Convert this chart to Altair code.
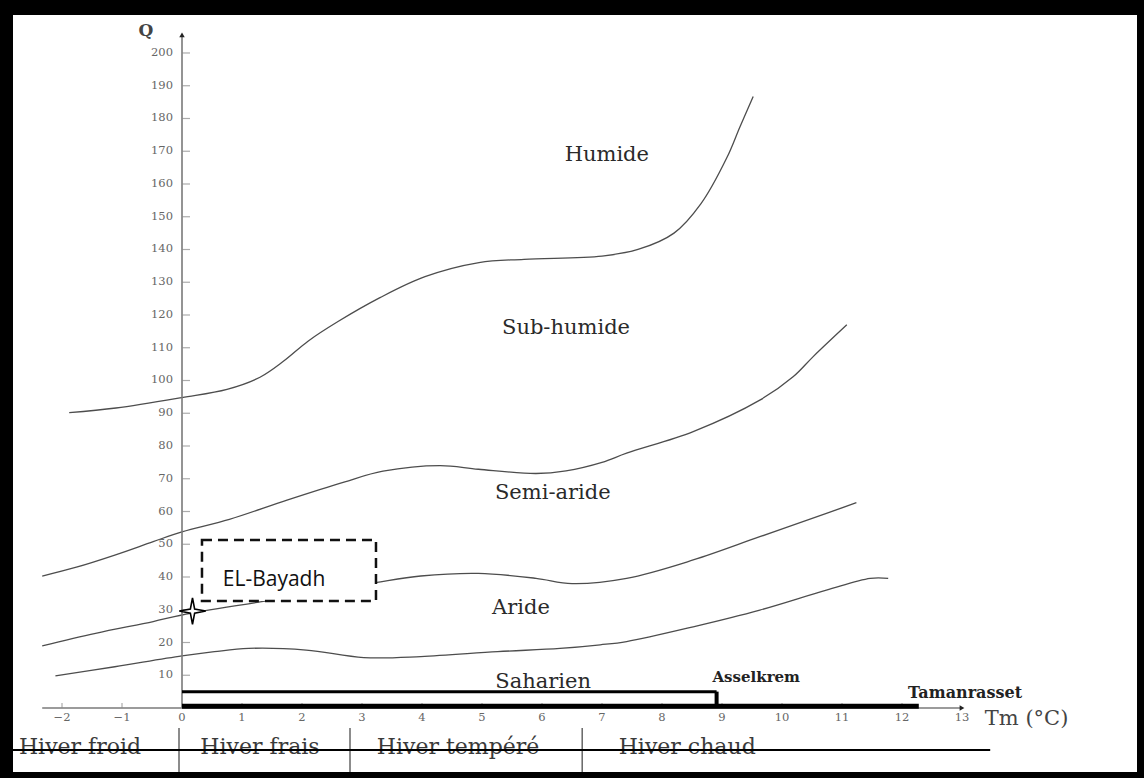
import altair as alt
import pandas as pd

# ---------------- data ----------------
# Boundary curves of the Emberger climagram (Tm in degC, Q)
curve_A_tm = [-1.88, -1.1, 0.0, 0.75, 1.3, 1.7, 2.1, 2.6, 3.3, 4.05, 4.95, 5.7, 7.0, 7.6, 8.2, 8.65, 9.08, 9.3, 9.52]
curve_A_q = [90.2, 91.6, 94.8, 97.3, 101.0, 106.0, 112.0, 118.0, 125.3, 131.7, 136.0, 137.0, 138.0, 140.0, 145.0, 154.0, 168.0, 177.5, 186.7]

curve_B_tm = [-2.33, -1.76, -1.12, -0.48, 0.0, 0.79, 1.75, 2.7, 3.35, 4.3, 4.94, 5.9, 6.4, 7.0, 7.41, 8.52, 9.63, 10.19, 10.52, 11.08]
curve_B_q = [40.3, 43.0, 46.7, 50.8, 53.8, 57.6, 63.5, 69.0, 72.3, 74.0, 72.9, 71.6, 72.4, 75.0, 77.8, 84.4, 94.0, 101.2, 107.3, 117.0]

curve_C_tm = [-2.33, -1.44, -0.48, 0.0, 1.43, 3.22, 3.98, 4.94, 5.9, 6.5, 7.41, 8.52, 9.63, 10.74, 11.24]
curve_C_q = [19.0, 22.8, 26.4, 28.4, 32.8, 38.3, 40.3, 41.1, 39.6, 38.0, 39.6, 45.2, 52.3, 59.4, 62.7]

curve_D_tm = [-2.11, -1.12, 0.0, 0.54, 1.11, 2.07, 3.03, 3.98, 5.26, 6.3, 6.97, 7.41, 8.52, 9.63, 10.74, 11.47, 11.77]
curve_D_q = [9.8, 12.6, 15.9, 17.2, 18.2, 17.7, 15.4, 15.7, 17.2, 18.2, 19.3, 20.3, 24.8, 29.9, 36.0, 39.6, 39.6]

# Bioclimatic zone labels
zone_names = ["Humide", "Sub-humide", "Semi-aride", "Aride", "Saharien"]
zone_tm = [7.08, 6.4, 6.18, 5.65, 6.02]
zone_q = [168.9, 116.0, 65.6, 30.5, 8.0]

# Stations (bars along the Tm axis)
station_names = ["Asselkrem", "Tamanrasset"]
station_tm_start = [0.0, 0.0]
station_tm_end = [8.91, 12.28]
station_q = [5.0, 0.5]
station_label_tm = [9.57, 13.05]
station_label_q = [9.5, 4.6]

# EL-Bayadh marker and box
elb_name = "EL-Bayadh"
elb_tm = 0.175
elb_q = 29.6
elb_box_tm = [0.333, 3.233]
elb_box_q = [32.7, 51.3]
elb_text_tm = 0.68
elb_text_q = 39.0

# Axes
y_ticks = list(range(10, 201, 10))
x_ticks = list(range(-2, 13))
x_labels = list(range(-2, 14))
x_axis_extent = [-2.33, 13.0]
y_axis_extent = [0.0, 205.5]

# Winter types band
winter_names = ["Hiver froid", "Hiver frais", "Hiver tempéré", "Hiver chaud"]
winter_tm = [-1.7, 1.3, 4.6, 8.42]
winter_q = -11.9
winter_sep_tm = [-0.05, 2.8, 6.67]
winter_line_tm = [-2.82, 13.47]
winter_line_q = -12.8

# ---------------- scales ----------------
xs = alt.Scale(domain=[-2.8167, 15.9167], nice=False, zero=False)
ys = alt.Scale(domain=[-19.54, 211.6], nice=False, zero=False)


def X(f):
    return alt.X(f, type="quantitative", scale=xs, axis=None)


def Y(f):
    return alt.Y(f, type="quantitative", scale=ys, axis=None)


def X2(f):
    return alt.X2(f)


def Y2(f):
    return alt.Y2(f)


SERIF = "DejaVu Serif"

# ---------------- curves ----------------
rows = []
for name, tms, qs in [("A", curve_A_tm, curve_A_q), ("B", curve_B_tm, curve_B_q),
                      ("C", curve_C_tm, curve_C_q), ("D", curve_D_tm, curve_D_q)]:
    for i, (t, q) in enumerate(zip(tms, qs)):
        rows.append({"curve": name, "tm": t, "q": q, "i": i})
curves_df = pd.DataFrame(rows)

curves = alt.Chart(curves_df).mark_line(
    interpolate="catmull-rom", color="#4d4d4d", strokeWidth=1.3
).encode(x=X("tm"), y=Y("q"), detail="curve:N", order="i:Q")

# ---------------- axes ----------------
axes_df = pd.DataFrame({
    "x1": [0.0, x_axis_extent[0]], "x2": [0.0, x_axis_extent[1]],
    "y1": [y_axis_extent[0], 0.0], "y2": [y_axis_extent[1], 0.0],
})
axis_lines = alt.Chart(axes_df).mark_rule(color="#7a7a7a", strokeWidth=1.6).encode(
    x=X("x1"), x2=X2("x2"), y=Y("y1"), y2=Y2("y2"))

arrows_df = pd.DataFrame({"tm": [0.0, x_axis_extent[1]], "q": [y_axis_extent[1], 0.0],
                          "shape": ["triangle-up", "triangle-right"]})
arrows = alt.Chart(arrows_df).mark_point(filled=True, color="#222", size=30, opacity=1).encode(
    x=X("tm"), y=Y("q"),
    shape=alt.Shape("shape:N", scale=None, legend=None))

yt_df = pd.DataFrame({"q": y_ticks, "tm": [0.0] * len(y_ticks)})
y_tick_marks = alt.Chart(yt_df).mark_tick(
    orient="horizontal", size=8, thickness=1.2, xOffset=4, color="#888"
).encode(x=X("tm"), y=Y("q"))
y_tick_labels = alt.Chart(yt_df).mark_text(
    align="right", baseline="middle", dx=-9, font=SERIF, fontSize=11.5, color="#666"
).encode(x=X("tm"), y=Y("q"), text="q:Q")

xt_df = pd.DataFrame({"tm": x_ticks, "q": [0.0] * len(x_ticks)})
x_tick_marks = alt.Chart(xt_df).mark_tick(
    orient="vertical", size=5, thickness=1.2, yOffset=-2.5, color="#888"
).encode(x=X("tm"), y=Y("q"))
xl_df = pd.DataFrame({"tm": x_labels, "q": [0.0] * len(x_labels)})
x_tick_labels = alt.Chart(xl_df).mark_text(
    align="center", baseline="middle", dy=10, font=SERIF, fontSize=11.5, color="#666"
).encode(x=X("tm"), y=Y("q"), text="tm:Q")

titles_df = pd.DataFrame({"tm": [13.38], "q": [-3.36], "t": ["Tm (°C)"]})
x_title = alt.Chart(titles_df).mark_text(
    align="left", baseline="middle", font=SERIF, fontSize=21, color="#444"
).encode(x=X("tm"), y=Y("q"), text="t:N")
qt_df = pd.DataFrame({"tm": [-0.6], "q": [206.7], "t": ["Q"]})
y_title = alt.Chart(qt_df).mark_text(
    align="center", baseline="middle", font=SERIF, fontSize=17, fontWeight="bold", color="#444"
).encode(x=X("tm"), y=Y("q"), text="t:N")

# ---------------- stations ----------------
st_df = pd.DataFrame({"name": station_names, "t0": station_tm_start, "t1": station_tm_end,
                      "q": station_q, "lt": station_label_tm, "lq": station_label_q,
                      "w": [3.0, 5.0], "fs": [15, 16]})
station_bars = alt.Chart(st_df).mark_rule(color="#000").encode(
    x=X("t0"), x2=X2("t1"), y=Y("q"),
    strokeWidth=alt.StrokeWidth("w:Q", scale=None, legend=None))
ends_df = pd.DataFrame({"t": [station_tm_end[0]], "q0": [station_q[1]], "q1": [station_q[0]]})
station_end = alt.Chart(ends_df).mark_rule(color="#000", strokeWidth=4).encode(
    x=X("t"), y=Y("q0"), y2=Y2("q1"))
station_labels = alt.Chart(st_df).mark_text(
    align="center", baseline="middle", font=SERIF, fontWeight="bold", color="#222"
).encode(x=X("lt"), y=Y("lq"), text="name:N",
         size=alt.Size("fs:Q", scale=None, legend=None))

# ---------------- zones ----------------
zone_df = pd.DataFrame({"name": zone_names, "tm": zone_tm, "q": zone_q})
zone_labels = alt.Chart(zone_df).mark_text(
    align="center", baseline="middle", font=SERIF, fontSize=21, color="#2a2a2a"
).encode(x=X("tm"), y=Y("q"), text="name:N")

# ---------------- EL-Bayadh ----------------
box_df = pd.DataFrame({"x1": [elb_box_tm[0]], "x2": [elb_box_tm[1]],
                       "y1": [elb_box_q[0]], "y2": [elb_box_q[1]]})
box = alt.Chart(box_df).mark_rect(
    fill="white", stroke="#111", strokeWidth=2.5, strokeDash=[10, 6]
).encode(x=X("x1"), x2=X2("x2"), y=Y("y1"), y2=Y2("y2"))
elb_text_df = pd.DataFrame({"tm": [elb_text_tm], "q": [elb_text_q], "t": [elb_name]})
elb_text = alt.Chart(elb_text_df).mark_text(
    align="left", baseline="middle", font="Open Sans", fontSize=21, color="#111"
).encode(x=X("tm"), y=Y("q"), text="t:N")
star_df = pd.DataFrame({"tm": [elb_tm], "q": [elb_q]})
star = alt.Chart(star_df).mark_point(
    shape="M0,-1 L0.16,-0.16 L1,0 L0.16,0.16 L0,1 L-0.16,0.16 L-1,0 L-0.16,-0.16 Z",
    size=700, fill="white", stroke="#000", strokeWidth=1.6, opacity=1, filled=False, fillOpacity=1
).encode(x=X("tm"), y=Y("q"))

# ---------------- winter band ----------------
w_df = pd.DataFrame({"name": winter_names, "tm": winter_tm, "q": [winter_q] * len(winter_names)})
winter_labels = alt.Chart(w_df).mark_text(
    align="center", baseline="middle", font=SERIF, fontSize=22, color="#3a3a3a", clip=True
).encode(x=X("tm"), y=Y("q"), text="name:N")
sep_df = pd.DataFrame({"tm": winter_sep_tm, "q0": [-6.1] * 3, "q1": [-25.0] * 3})
winter_seps = alt.Chart(sep_df).mark_rule(color="#666", strokeWidth=1.5, clip=True).encode(
    x=X("tm"), y=Y("q0"), y2=Y2("q1"))
wl_df = pd.DataFrame({"x1": [winter_line_tm[0]], "x2": [winter_line_tm[1]], "q": [winter_line_q]})
winter_line = alt.Chart(wl_df).mark_rule(color="#000", strokeWidth=2, clip=True).encode(
    x=X("x1"), x2=X2("x2"), y=Y("q"))

chart = alt.layer(
    curves, axis_lines, x_tick_marks, y_tick_marks, station_bars, station_end,
    arrows, y_tick_labels, x_tick_labels, x_title, y_title, station_labels,
    zone_labels, box, elb_text, star, winter_labels, winter_seps, winter_line
).properties(
    width=1124, height=757,
    autosize=alt.AutoSizeParams(type="none"),
    padding={"left": 13, "top": 15, "right": 7, "bottom": 6},
    background="black",
).configure_view(fill="white", strokeWidth=0)

chart.save("out.html", embed_options={"renderer": "svg", "actions": False})
